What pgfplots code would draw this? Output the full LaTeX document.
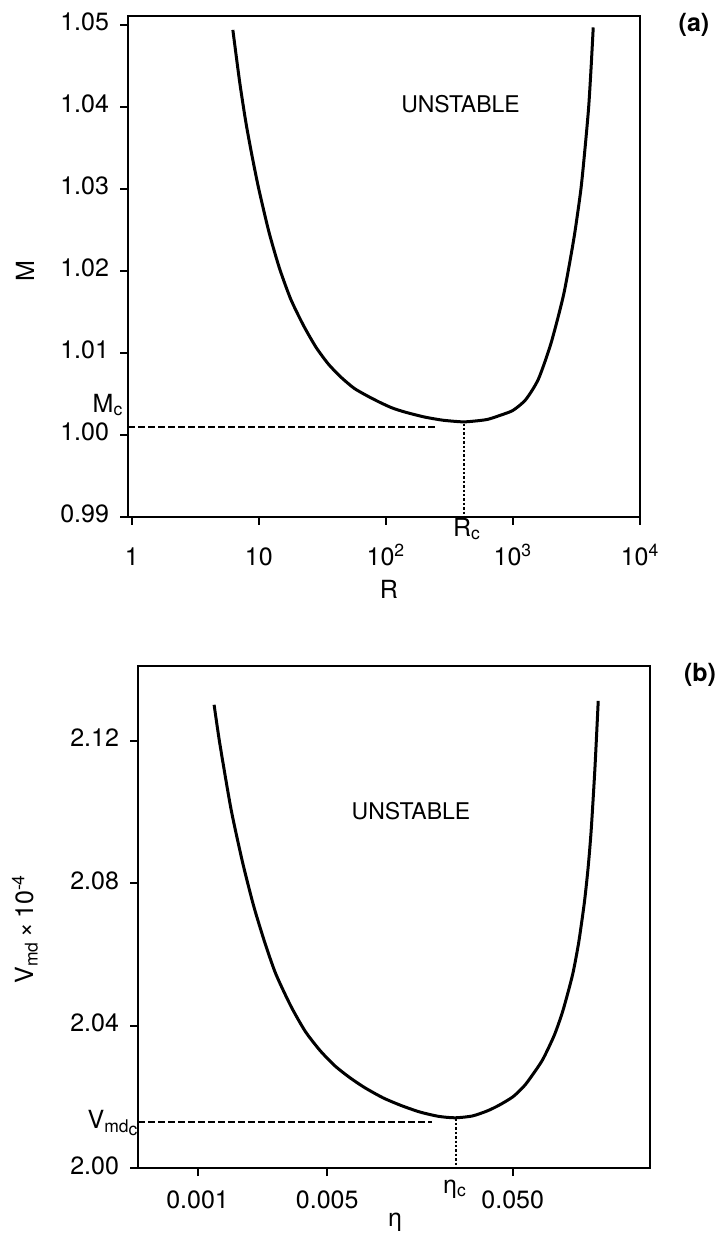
\documentclass[border=0pt]{standalone}
\usepackage{fontspec}
\setmainfont{TeX Gyre Heros}
\usepackage{pgfplots}
\pgfplotsset{compat=1.18}
\begin{document}
\begin{tikzpicture}[x=1pt,y=1pt]
\useasboundingbox (0pt,0pt) rectangle (361pt,617pt);
\pgfplotsset{myax/.style={scale only axis, axis line style={line width=1pt}, tick style={line width=1pt, black}, tick align=outside, major tick length=4pt, xtick pos=bottom, ytick pos=left, clip=false, typeset ticklabels with strut, xminorticks=false, tick label style={font=\fontsize{12.5}{15}\selectfont}}}
\begin{axis}[myax, at={(64pt,358.5pt)}, anchor=south west, width=256pt, height=250.5pt,
  xmode=log, xmin=0.935, xmax=10000, ymin=0.99, ymax=1.0511,
  xtick={1,10,100,1000,10000},
  xticklabels={1,10,10\textsuperscript{2},10\textsuperscript{3},10\textsuperscript{4}},
  ytick={0.99,1.00,1.01,1.02,1.03,1.04,1.05},
  yticklabels={0.99,1.00,1.01,1.02,1.03,1.04,1.05},
  xticklabel style={yshift=-6pt}, yticklabel style={xshift=-2pt}]
\addplot[black, line width=1.5pt, smooth, tension=0.4] coordinates {
(6.25,1.0494) (7.08,1.0430) (7.94,1.0380) (8.91,1.0338) (10.0,1.0300) (12.0,1.0248)
(14.5,1.0204) (17.8,1.0166) (22.4,1.0134) (28.2,1.0107) (35.5,1.0086) (44.7,1.0070)
(56.2,1.0057) (70.8,1.0048) (89.1,1.0040) (112,1.0033) (141,1.0028) (200,1.0022)
(282,1.0018) (403,1.0016) (501,1.0017) (631,1.0019) (794,1.0024) (1000,1.0030)
(1259,1.0043) (1585,1.0068) (1995,1.0112) (2512,1.0172) (3020,1.0240) (3428,1.0300)
(3715,1.0354) (3945,1.0400) (4121,1.0448) (4285,1.0497)};
\addplot[black, line width=1pt, dash pattern=on 3.5pt off 1.5pt] coordinates {(0.935,1.001) (250,1.001)};
\addplot[black, line width=0.9pt, dash pattern=on 1.2pt off 1pt] coordinates {(410,1.0014) (410,0.99)};
\node[font=\fontsize{11.5}{14}\selectfont] at (axis cs:387,1.0404) {UNSTABLE};
\end{axis}
\begin{axis}[myax, at={(69pt,33pt)}, anchor=south west, width=256pt, height=251pt,
  xmode=log, xmin=0.000477, xmax=0.2748, ymin=2.00, ymax=2.141,
  xtick={0.001,0.005,0.05}, xticklabels={0.001,0.005,0.050},
  ytick={2.00,2.04,2.08,2.12}, yticklabels={2.00,2.04,2.08,2.12},
  xticklabel style={yshift=-2pt}, yticklabel style={xshift=-2pt}]
\addplot[black, line width=1.5pt, smooth, tension=0.4] coordinates {
(0.001227,2.1301) (0.001318,2.1191) (0.001514,2.1008) (0.00175,2.0857) (0.00201,2.0734)
(0.00231,2.0631) (0.00264,2.0545) (0.00318,2.0455) (0.003802,2.0384) (0.004571,2.0330)
(0.005495,2.0287) (0.006607,2.0254) (0.007943,2.0226) (0.01,2.0197) (0.01259,2.0175)
(0.01585,2.0157) (0.01995,2.0145) (0.02443,2.0141) (0.0302,2.0146) (0.03631,2.0160)
(0.04207,2.0176) (0.05012,2.0200) (0.05754,2.0230) (0.06281,2.0256) (0.07244,2.0304)
(0.08375,2.0373) (0.09333,2.0443) (0.1052,2.0544) (0.1135,2.0635) (0.1216,2.0745)
(0.1274,2.0843) (0.1324,2.0949) (0.1387,2.1123) (0.1445,2.1312)};
\addplot[black, line width=1pt, dash pattern=on 3.5pt off 1.5pt] coordinates {(0.000477,2.0128) (0.0184,2.0128)};
\addplot[black, line width=0.9pt, dash pattern=on 1.2pt off 1pt] coordinates {(0.0247,2.0139) (0.0247,2.00)};
\node[font=\fontsize{11.5}{14}\selectfont] at (axis cs:0.01413,2.1003) {UNSTABLE};
\end{axis}
\begin{scope}[font=\fontsize{12.5}{15}\selectfont]
\node[font=\bfseries\fontsize{12.5}{15}\selectfont] at (347pt,604.5pt) {(a)};
\node[font=\bfseries\fontsize{12.5}{15}\selectfont] at (350pt,279.5pt) {(b)};
\node[rotate=90] at (12.5pt,481.5pt) {M};
\node at (194.5pt,322.5pt) {R};
\node at (54pt,414.5pt) {M\textsubscript{c}};
\node at (233.5pt,352.5pt) {R\textsubscript{c}};
\node[rotate=90] at (12.5pt,152.5pt) {V\textsubscript{md}\,×\,10\textsuperscript{-4}};
\node at (197.5pt,6pt) {η};
\node at (56.5pt,55.5pt) {V\textsubscript{md\raisebox{-0.3ex}{c}}};
\node at (227.5pt,22.5pt) {η\textsubscript{c}};
\end{scope}
\end{tikzpicture}
\end{document}
